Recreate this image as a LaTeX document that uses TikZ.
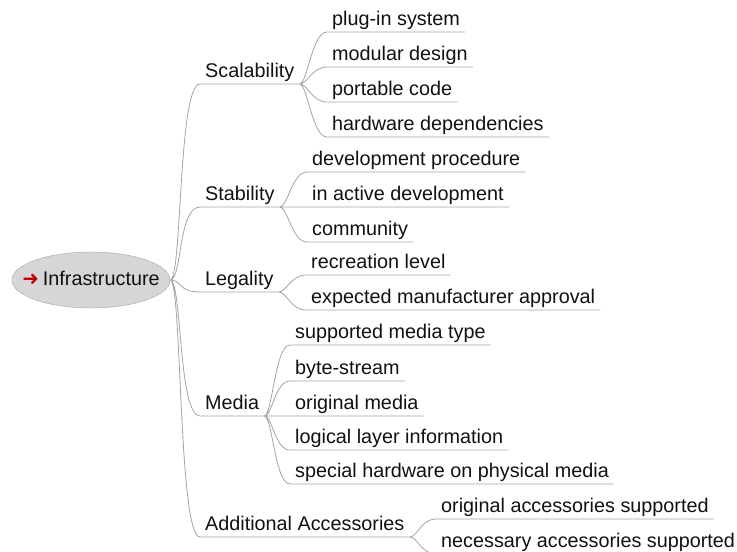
\documentclass[tikz,border=0pt]{standalone}
\usepackage{fontspec}
\setmainfont{Liberation Sans}
\newfontfamily\arrowfont{DejaVu Sans}
\usepackage{xcolor}
\usetikzlibrary{shapes.geometric}
\definecolor{linegray}{HTML}{A3A3A3}
\definecolor{rootfill}{HTML}{D6D6D6}
\definecolor{rootborder}{HTML}{A6A6A6}
\definecolor{arrowred}{HTML}{C00000}
\definecolor{textblack}{HTML}{111111}

\begin{document}
\begin{tikzpicture}[x=1pt, y=-1pt,
            every node/.style = {anchor=south west, inner xsep=5pt, inner ysep=1.5pt,
                                text height=15pt, text depth=4.5pt, text=textblack,
                                font=\fontsize{19.8}{24}\selectfont},
            rootnode/.style = {ellipse, draw=rootborder, fill=rootfill, anchor=center,
                                inner sep=0pt, minimum width=158pt, minimum height=56pt},
            branch/.style = {draw=linegray, line width=0.8pt,
                                to path={.. controls +(8,0) and +(-15,0) .. (\tikztotarget.south west) -- (\tikztotarget.south east)}},
            trunk/.style = {branch,
                                to path={.. controls +(12,0) and +(-22,0) .. (\tikztotarget.south west) -- (\tikztotarget.south east)}}]
            \useasboundingbox (0,0) rectangle (737,552);
            % root
            \node[rootnode] (infra) at (91,280) {\makebox[0pt]{{\arrowfont\color{arrowred}➜}\hspace{4pt}Infrastructure}};
            % first level
            \node (scal)  at (200,84)  {Scalability};
            \node (stab)  at (200,207) {Stability};
            \node (legal) at (200,292) {Legality};
            \node (media) at (200,416) {Media};
            \node (acc)   at (200,537) {Additional Accessories};
            % second level
            \node (plugin)   at (327,32)  {plug-in system};
            \node (modular)  at (327,67)  {modular design};
            \node (portable) at (327,102) {portable code};
            \node (hwdep)    at (327,137) {hardware dependencies};
            \node (devproc)   at (307,172) {development procedure};
            \node (active)    at (307,207) {in active development};
            \node (community) at (307,242) {community};
            \node (recreation) at (306,275) {recreation level};
            \node (approval)   at (306,310) {expected manufacturer approval};
            \node (mediatype)  at (290,345) {supported media type};
            \node (bytestream) at (290,381) {byte-stream};
            \node (origmedia)  at (290,416) {original media};
            \node (logical)    at (290,450) {logical layer information};
            \node (special)    at (290,484) {special hardware on physical media};
            \node (origacc) at (436,519) {original accessories supported};
            \node (needacc) at (436,554) {necessary accessories supported};
            % connectors
            \draw[trunk] (infra.east) to (scal) (infra.east) to (stab) (infra.east) to (legal)
                         (infra.east) to (media) (infra.east) to (acc);
            \draw[branch] (scal.south east) to (plugin) (scal.south east) to (modular)
                          (scal.south east) to (portable) (scal.south east) to (hwdep);
            \draw[branch] (stab.south east) to (devproc) (stab.south east) to (active)
                          (stab.south east) to (community);
            \draw[branch] (legal.south east) to (recreation) (legal.south east) to (approval);
            \draw[branch] (media.south east) to (mediatype) (media.south east) to (bytestream)
                          (media.south east) to (origmedia) (media.south east) to (logical)
                          (media.south east) to (special);
            \draw[branch] (acc.south east) to (origacc) (acc.south east) to (needacc);
        \end{tikzpicture}
\end{document}
